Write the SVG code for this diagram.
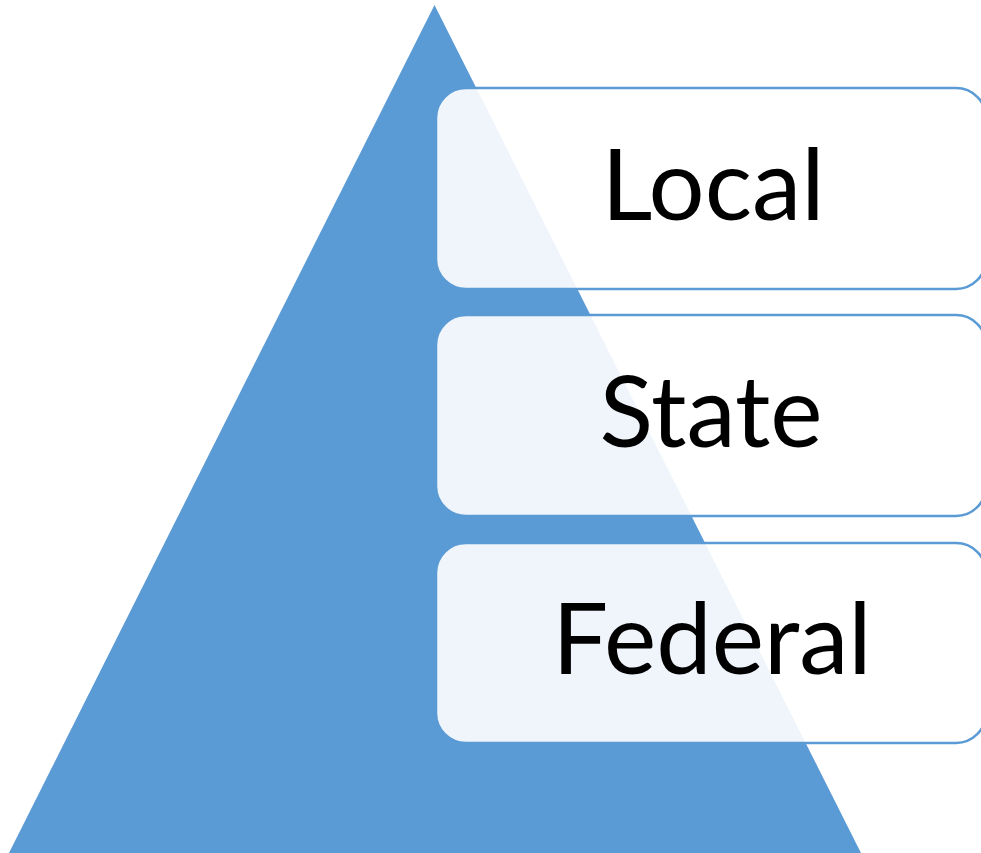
<svg xmlns="http://www.w3.org/2000/svg" width="981" height="853" viewBox="0 0 981 853">
<style>
.box{fill:#ffffff;fill-opacity:0.9;stroke:#5B9BD5;stroke-width:2.5}
.lbl{font-family:Lato,"Liberation Sans",sans-serif;font-size:99px;fill:#000;text-anchor:middle}
</style>
<rect width="981" height="853" fill="#ffffff"/>
<g id="pyramid"><polygon points="434.5,5 8,855 862,855" fill="#5B9BD5"/></g>
<g id="local"><rect class="box" x="436" y="88" width="550" height="201" rx="30" ry="30"/><text class="lbl" x="713" y="220">Local</text></g>
<g id="state"><rect class="box" x="436" y="315" width="550" height="201" rx="30" ry="30"/><text class="lbl" x="711" y="447">State</text></g>
<g id="federal"><rect class="box" x="436" y="543" width="550" height="200" rx="30" ry="30"/><text class="lbl" x="712" y="674">Federal</text></g>
<g id="connectors"></g>
</svg>
